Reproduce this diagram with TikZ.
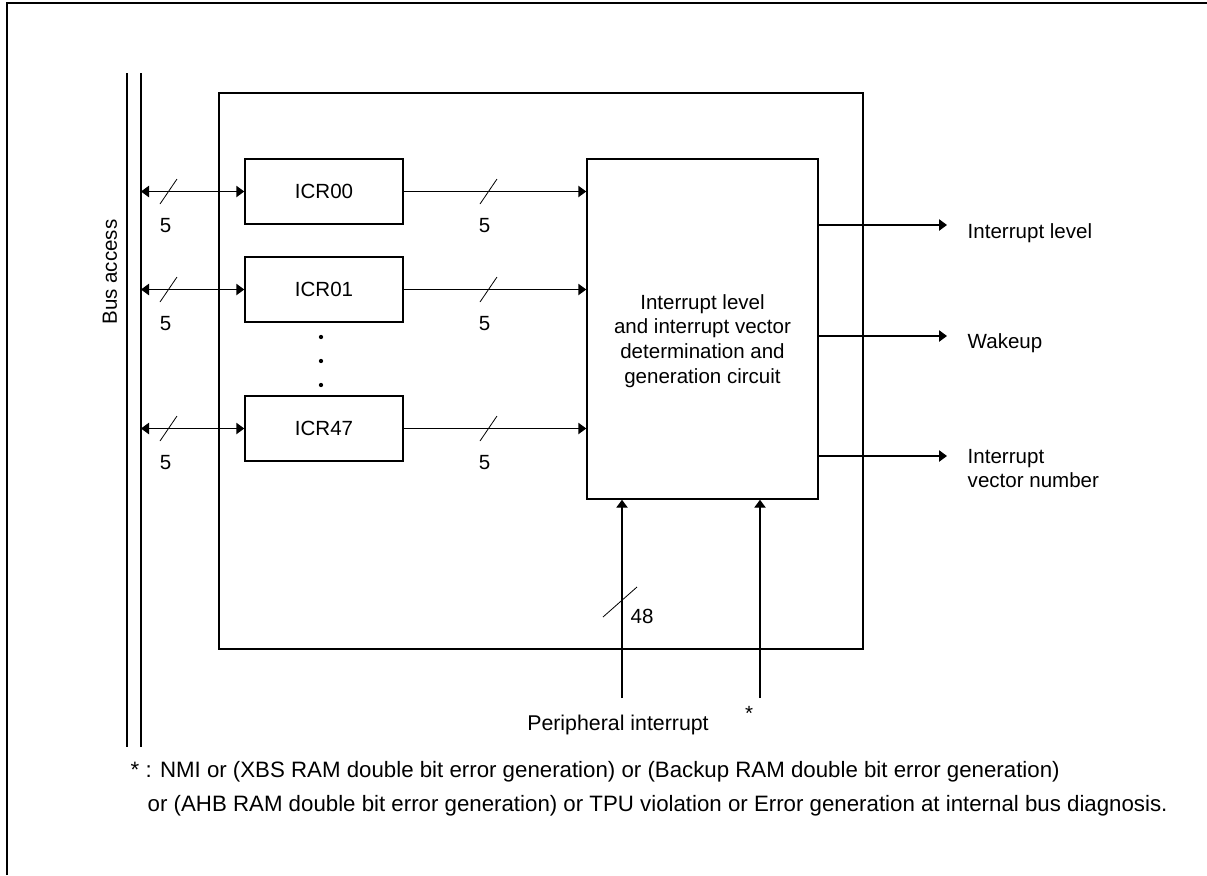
\documentclass[tikz,border=0pt]{standalone}
\usepackage{fontspec}
\setmainfont{Liberation Sans}
\usetikzlibrary{arrows.meta}
\begin{document}
\begin{tikzpicture}[x=0.75pt,y=-0.75pt,line width=1.1pt,
  txt/.style={font=\fontsize{15.4}{18.5}\selectfont,inner sep=0pt},
  fntxt/.style={font=\fontsize{16.7}{20}\selectfont,inner sep=0pt},
  regbox/.style={draw,line width=1.1pt,minimum width=118.5pt,minimum height=48.75pt,font=\fontsize{15.4}{18.5}\selectfont,inner sep=0pt},
  tip/.style={-{Triangle[length=6pt,width=8.5pt]}},
  bitip/.style={{Triangle[length=6pt,width=8.5pt]}-{Triangle[length=6pt,width=8.5pt]}},
  busslash/.pic={\draw[line width=0.6pt] (-8.5,12.5) -- (8.5,-12.5);},
  bigslash/.pic={\draw[line width=0.6pt] (-17,15) -- (17,-15);}
]
\useasboundingbox (0,0) rectangle (1207,875);
% page frame
\draw[line width=1.5pt] (7,875) -- (7,3) -- (1207,3);
% bus lines
\coordinate (busLtop) at (127,73);
\coordinate (busLbot) at (127,747);
\coordinate (busRtop) at (141,73);
\coordinate (busRbot) at (141,747);
\draw (busLtop) -- (busLbot);
\draw (busRtop) -- (busRbot);
\node[txt,rotate=90] (busacc) at (110,272) {Bus access};
% unit box
\node[draw,minimum width=483pt,minimum height=417pt,inner sep=0pt] (unit) at (541,371) {};
% registers
\node[regbox] (icr00) at (324,191.5) {ICR00};
\node[regbox] (icr01) at (324,289.5) {ICR01};
\node[regbox] (icr47) at (324,428.5) {ICR47};
\fill (321,337) circle (1.6pt) (321,361) circle (1.6pt) (321,385) circle (1.6pt);
% big circuit
\node[draw,minimum width=173.25pt,minimum height=255pt,inner sep=0pt] (big) at (702.5,329) {};
\node[txt,align=center] (bigtxt) at (702.5,341) {Interrupt level\\and interrupt vector\\determination and\\generation circuit};
% bus to registers
\foreach \r/\yy in {icr00/191.5,icr01/289.5,icr47/428.5}{
  \draw[bitip] (busRtop |- \r.west) -- (\r.west);
  \draw[tip] (\r.east) -- (\r.east -| big.west);
  \pic at (168.5,\yy) {busslash};
  \pic at (488.5,\yy) {busslash};
  \node[txt] at (165.5,\yy+34) {5};
  \node[txt] at (484.5,\yy+34) {5};
}
% outputs
\coordinate (o1) at (947,225);
\coordinate (o2) at (947,336);
\coordinate (o3) at (947,456);
\draw[tip] (o1 -| big.east) -- (o1);
\draw[tip] (o2 -| big.east) -- (o2);
\draw[tip] (o3 -| big.east) -- (o3);
\node[txt,anchor=west] (lvl) at (967,233) {Interrupt level};
\node[txt,anchor=west] (wake) at (967,343) {Wakeup};
\node[txt,anchor=west,align=left] (vec) at (967,468.5) {Interrupt\\vector number};
% inputs
\coordinate (p1) at (622,698);
\coordinate (p2) at (760,698);
\draw[tip] (p1) -- (p1 |- big.south);
\draw[tip] (p2) -- (p2 |- big.south);
\pic at (620,602) {bigslash};
\node[txt,anchor=west] (n48) at (630,616) {48};
\node[txt,font=\fontsize{16}{19}\selectfont] (peri) at (618,725) {Peripheral interrupt};
\node[txt] (star) at (749,713) {*};
% footnote
\node[fntxt,anchor=west] (fn1) at (130,772) {* : NMI or (XBS RAM double bit error generation) or (Backup RAM double bit error generation)};
\node[fntxt,anchor=west] (fn2) at (147,806) {or (AHB RAM double bit error generation) or TPU violation or Error generation at internal bus diagnosis.};
\end{tikzpicture}
\end{document}
